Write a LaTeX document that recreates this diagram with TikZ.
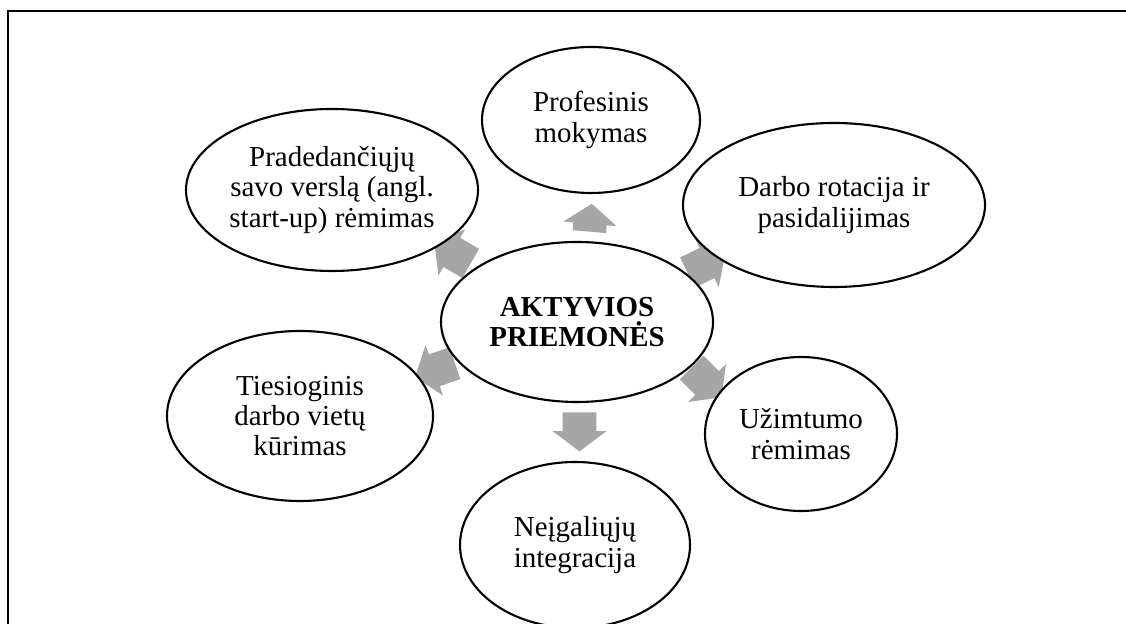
\documentclass[tikz,border=0pt]{standalone}
\usepackage{fontspec}
\setmainfont{Liberation Serif}
\usetikzlibrary{shapes.geometric,shapes.arrows}

\begin{document}
\begin{tikzpicture}[
    bubble/.style={ellipse, draw=black, line width=1.5pt, fill=white, inner sep=0pt, align=center, font=\fontsize{20.6}{21.5}\selectfont},
    blockarrow/.style={single arrow, draw=none, fill=gray!70, inner xsep=0pt, inner ysep=0.4125cm, minimum width=1.325cm, single arrow head extend=0.25cm, single arrow tip angle=106, minimum height=1.05cm}
]
    \useasboundingbox (0,0) rectangle (28.15,15.6);

    % Frame
    \coordinate (fbl) at (0.2,0);
    \coordinate (ftl) at (0.2,15.325);
    \coordinate (ftr) at (28.15,15.325);
    \draw[line width=1.2pt] (fbl) -- (ftl) -- (ftr);

    % Arrows (under the ellipses)
    \node[blockarrow, minimum height=0.7cm, rotate=85] (arrup) at (14.75,10.0) {};
    \node[blockarrow, rotate=26] (arrur) at (17.515,8.945) {};
    \node[blockarrow, rotate=-45] (arrlr) at (17.55,6.15) {};
    \node[blockarrow, minimum height=0.975cm, rotate=-90] (arrdn) at (14.4875,4.96) {};
    \node[blockarrow, rotate=199] (arrll) at (11.025,6.4) {};
    \node[blockarrow, rotate=150] (arrul) at (11.45,9.2) {};

    % Outer ellipses
    \node[bubble, minimum width=5.45cm, minimum height=3.65cm] (prof) at (14.775,12.6) {Profesinis\\mokymas};
    \node[bubble, minimum width=7.55cm, minimum height=4.1cm] (darbo) at (20.85,10.475) {Darbo rotacija ir\\pasidalijimas};
    \node[bubble, minimum width=7.3cm, minimum height=4.05cm] (prad) at (8.3,10.85) {Pradedančiųjų\\savo verslą (angl.\\start-up) rėmimas};
    \node[bubble, minimum width=6.65cm, minimum height=4.25cm] (ties) at (7.5,5.2) {Tiesioginis\\darbo vietų\\kūrimas};
    \node[bubble, minimum width=4.8cm, minimum height=3.85cm] (uzim) at (20.025,4.75) {Užimtumo\\rėmimas};
    \node[bubble, minimum width=5.75cm, minimum height=4.15cm] (neig) at (14.375,1.975) {Neįgaliųjų\\integracija};

    % Centre
    \node[bubble, minimum width=6.8cm, minimum height=4cm] (aktyv) at (14.425,7.55) {\textbf{AKTYVIOS}\\\textbf{PRIEMONĖS}};
\end{tikzpicture}
\end{document}
